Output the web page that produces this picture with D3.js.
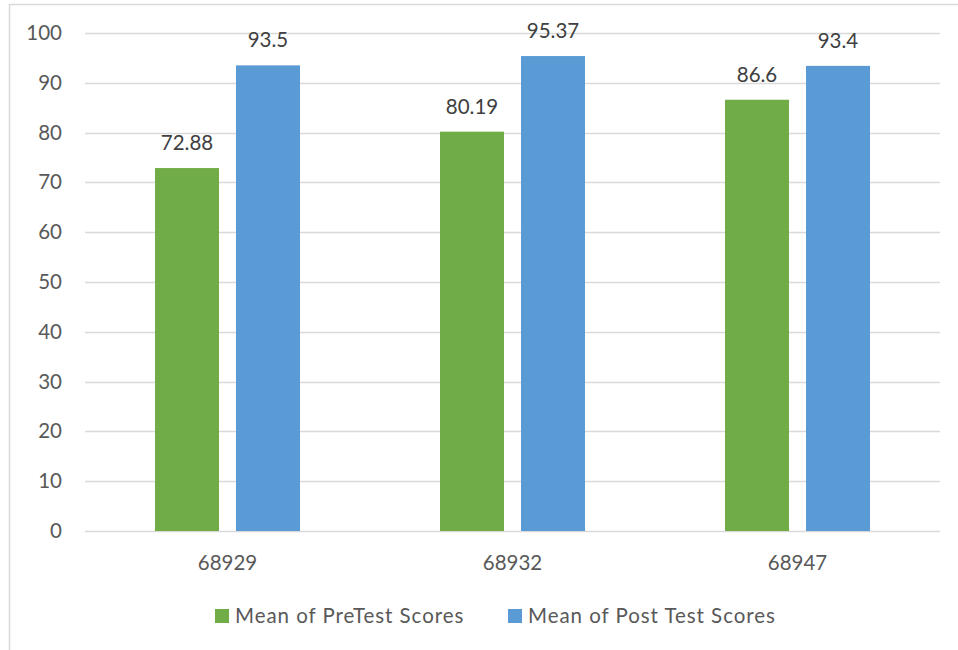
<!DOCTYPE html>
<html>
<head>
<meta charset="utf-8">
<script src="https://cdn.jsdelivr.net/npm/d3@7"></script>
<style>
  body { margin: 0; background: #fff; }
  svg { display: block; font-family: Lato, "Open Sans", sans-serif; }
</style>
</head>
<body>
<svg id="chart"></svg>
<script>
// data
let categories = ["68929", "68932", "68947"];
let seriesNames = ["Mean of PreTest Scores", "Mean of Post Test Scores"];
let preTest = [72.88, 80.19, 86.6];
let postTest = [93.5, 95.37, 93.4];
let yTicks = [0, 10, 20, 30, 40, 50, 60, 70, 80, 90, 100];
let colors = ["#70ad47", "#5b9bd5"];

let width = 958,
    height = 650,
    margin = {top: 33, right: 18, bottom: 119, left: 85},
    svg = d3.select("#chart")
        .attr("width", width)
        .attr("height", height);

let textColor = "#595959";

// outer chart frame (runs off right / bottom edge)
svg.append("rect")
    .attr("x", 9.5).attr("y", 4.5)
    .attr("width", width + 20).attr("height", height + 20)
    .attr("fill", "none")
    .attr("stroke", "#d9d9d9")
    .attr("stroke-width", 1.5);

let rows = categories.map((c, i) => ({cat: c, values: [preTest[i], postTest[i]]}));

let x0 = d3.scaleBand()
    .domain(categories)
    .range([margin.left, width - margin.right])
    .padding(0);

let x1 = d3.scaleBand()
    .domain(d3.range(seriesNames.length))
    .range([-72.5, 72.5])
    .paddingInner(0.21);

let y = d3.scaleLinear()
    .domain([0, 100])
    .range([height - margin.bottom, margin.top]);

// gridlines
svg.append("g")
    .selectAll("line")
    .data(yTicks)
    .enter().append("line")
    .attr("x1", margin.left)
    .attr("x2", width - margin.right)
    .attr("y1", d => Math.round(y(d)) + 0.5)
    .attr("y2", d => Math.round(y(d)) + 0.5)
    .attr("stroke", "#d9d9d9")
    .attr("stroke-width", 1.5);

// y axis labels
let yAxis = svg.append("g")
    .attr("transform", "translate(" + (margin.left - 23) + ",0)")
    .call(d3.axisLeft(y).tickValues(yTicks).tickSize(0).tickPadding(0));
yAxis.select(".domain").remove();
yAxis.selectAll("text")
    .attr("fill", textColor)
    .attr("font-size", "20.5px")
    .attr("font-family", "Lato, 'Open Sans', sans-serif");

// bars
let groups = svg.append("g")
    .selectAll("g")
    .data(rows)
    .enter().append("g")
    .attr("transform", d => "translate(" + (x0(d.cat) + x0.bandwidth() / 2) + ",0)");

groups.selectAll("rect")
    .data(d => d.values.map((v, i) => ({v: v, i: i})))
    .enter().append("rect")
    .attr("x", d => x1(d.i))
    .attr("width", x1.bandwidth())
    .attr("y", d => y(d.v))
    .attr("height", d => y(0) - y(d.v))
    .attr("fill", d => colors[d.i]);

// value labels
groups.selectAll("text")
    .data(d => d.values.map((v, i) => ({v: v, i: i})))
    .enter().append("text")
    .attr("x", d => x1(d.i) + x1.bandwidth() / 2)
    .attr("y", d => y(d.v) - 18)
    .attr("text-anchor", "middle")
    .attr("fill", "#404040")
    .attr("font-size", "20.5px")
    .text(d => d.v);

// x axis labels
let xAxis = svg.append("g")
    .attr("transform", "translate(0," + (height - margin.bottom) + ")")
    .call(d3.axisBottom(x0).tickSize(0).tickPadding(24));
xAxis.select(".domain").remove();
xAxis.selectAll("text")
    .attr("fill", textColor)
    .attr("font-size", "20.5px")
    .attr("font-family", "Lato, 'Open Sans', sans-serif");

// legend
let legendX = [215, 508];
let legend = svg.append("g")
    .selectAll("g")
    .data(seriesNames)
    .enter().append("g")
    .attr("transform", (d, i) => "translate(" + legendX[i] + ",609)");

legend.append("rect")
    .attr("width", 14).attr("height", 14)
    .attr("fill", (d, i) => colors[i]);

legend.append("text")
    .attr("x", 20)
    .attr("y", 14)
    .attr("fill", textColor)
    .attr("font-size", "20.5px")
    .attr("letter-spacing", "0.95px")
    .text(d => d);
</script>
</body>
</html>
